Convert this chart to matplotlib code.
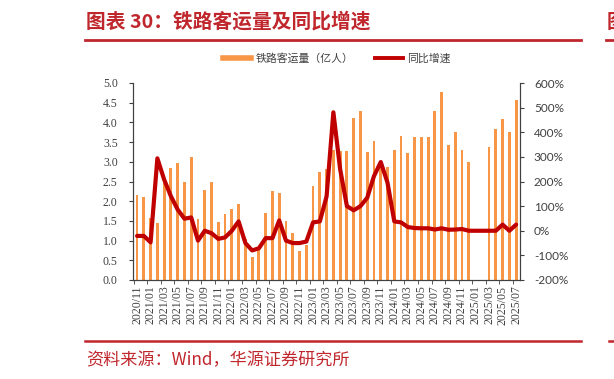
import numpy as np
import pandas as pd
import matplotlib
matplotlib.use('Agg')
import matplotlib.pyplot as plt
from matplotlib.lines import Line2D

plt.rcParams['font.family'] = ['Noto Sans CJK SC', 'DejaVu Sans']

# months 2020/11 .. 2025/07
months = pd.date_range('2020-11-01', '2025-07-01', freq='MS').strftime('%Y/%m').tolist()

# railway passenger volume (100 million people), Jan/Feb 2025 not published
passengers = [2.16, 2.10, 1.58, 1.45, 2.45, 2.84, 2.96, 2.48, 3.11, 1.56,
              2.28, 2.50, 1.47, 1.67, 1.80, 1.92, 1.05, 0.58, 0.76, 1.70,
              2.27, 2.20, 1.49, 1.19, 0.74, 0.90, 2.39, 2.74, 2.81, 3.31,
              3.28, 3.28, 4.11, 4.29, 3.26, 3.53, 2.95, 2.87, 3.30, 3.66,
              3.23, 3.62, 3.62, 3.62, 4.28, 4.77, 3.42, 3.75, 3.30, 2.99,
              np.nan, np.nan, 3.38, 3.83, 4.08, 3.75, 4.57]

# year-on-year growth (%)
yoy = [-21, -21, -47, 294, 208, 140, 86, 49, 54, -40,
       0, -10, -33, -27, 0, 38, -50, -80, -71, -30,
       -30, 42, -40, -50, -50, -44, 34, 38, 140, 481,
       250, 100, 83, 100, 134, 222, 279, 195, 38, 34,
       15, 11, 10, 10, 5, 10, 4, 5, 7, 0,
       0, 0, 0, 0, 25, 0, 25]

red = '#C0272D'
axis_col = '#404040'

fig = plt.figure(figsize=(6.14, 3.79), dpi=100)
ax = fig.add_axes([133/614, 1-280/379, (520-133)/614, (280-83)/379])
ax2 = ax.twinx()

x = np.arange(len(months))
ax.bar(x, passengers, width=0.42, color='#F79646', zorder=2)
ax2.plot(x, yoy, color='#C00000', lw=3, solid_joinstyle='round', solid_capstyle='round')

ax.set_xlim(-0.6, len(months) - 0.43)
ax.set_ylim(0, 5)
ax.set_yticks(np.arange(0, 5.01, 0.5))
ax.set_yticklabels([f'{v:.1f}' for v in np.arange(0, 5.01, 0.5)],
                   family='Liberation Serif', fontsize=8.5, color=axis_col)
ax2.set_ylim(-200, 600)
ax2.set_yticks(np.arange(-200, 601, 100))
ax2.set_yticklabels([f'{v}%' for v in range(-200, 601, 100)],
                    family='Lato', fontsize=8.5, color=axis_col)

# labels every two months, tick marks between categories
ax.set_xticks(x[::2])
ax.set_xticklabels(months[::2], rotation=90, family='Liberation Serif',
                   fontsize=8.5, color=axis_col)
ax.set_xticks(np.arange(-0.5, len(months), 2), minor=True)
ax.tick_params(axis='x', which='major', length=0, pad=4)
ax.tick_params(axis='x', which='minor', length=3, color=axis_col, direction='out')
ax.tick_params(axis='y', length=3, color=axis_col, pad=8)
ax2.tick_params(axis='y', length=3, color=axis_col, pad=7)

for a in (ax, ax2):
    a.spines['top'].set_visible(False)
    for s in ('left', 'right', 'bottom'):
        a.spines[s].set_color(axis_col)
        a.spines[s].set_linewidth(0.8)

handles = [Line2D([], [], color='#F79646', lw=4),
           Line2D([], [], color='#C00000', lw=2.8)]
fig.legend(handles, ['铁路客运量（亿人）', '同比增速'], loc='center',
           bbox_to_anchor=(337/614, 1-58/379), ncol=2, frameon=False,
           fontsize=7.8, handlelength=2.6, columnspacing=2.0, handletextpad=0.4,
           labelcolor='#404040')

# title and source
fig.text(86/614, 1-22/379, '图表 30：铁路客运量及同比增速', color=red,
         fontsize=14.2, fontweight='bold', va='center', ha='left')
fig.add_artist(Line2D([85/614, 581/614], [1-40/379, 1-40/379], color=red, lw=2))
fig.add_artist(Line2D([606/614, 614/614], [1-40/379, 1-40/379], color=red, lw=2))
fig.text(607/614, 1-22/379, '图', color=red, fontsize=14.2, fontweight='bold',
         va='center', ha='left')
fig.add_artist(Line2D([85/614, 581/614], [1-341/379, 1-341/379], color=red, lw=1.8))
fig.add_artist(Line2D([609/614, 614/614], [1-341/379, 1-341/379], color=red, lw=1.8))
fig.text(86/614, 1-360/379, '资料来源：Wind，华源证券研究所', color=red,
         fontsize=12.3, va='center', ha='left')

fig.savefig('out.png', dpi=100)
